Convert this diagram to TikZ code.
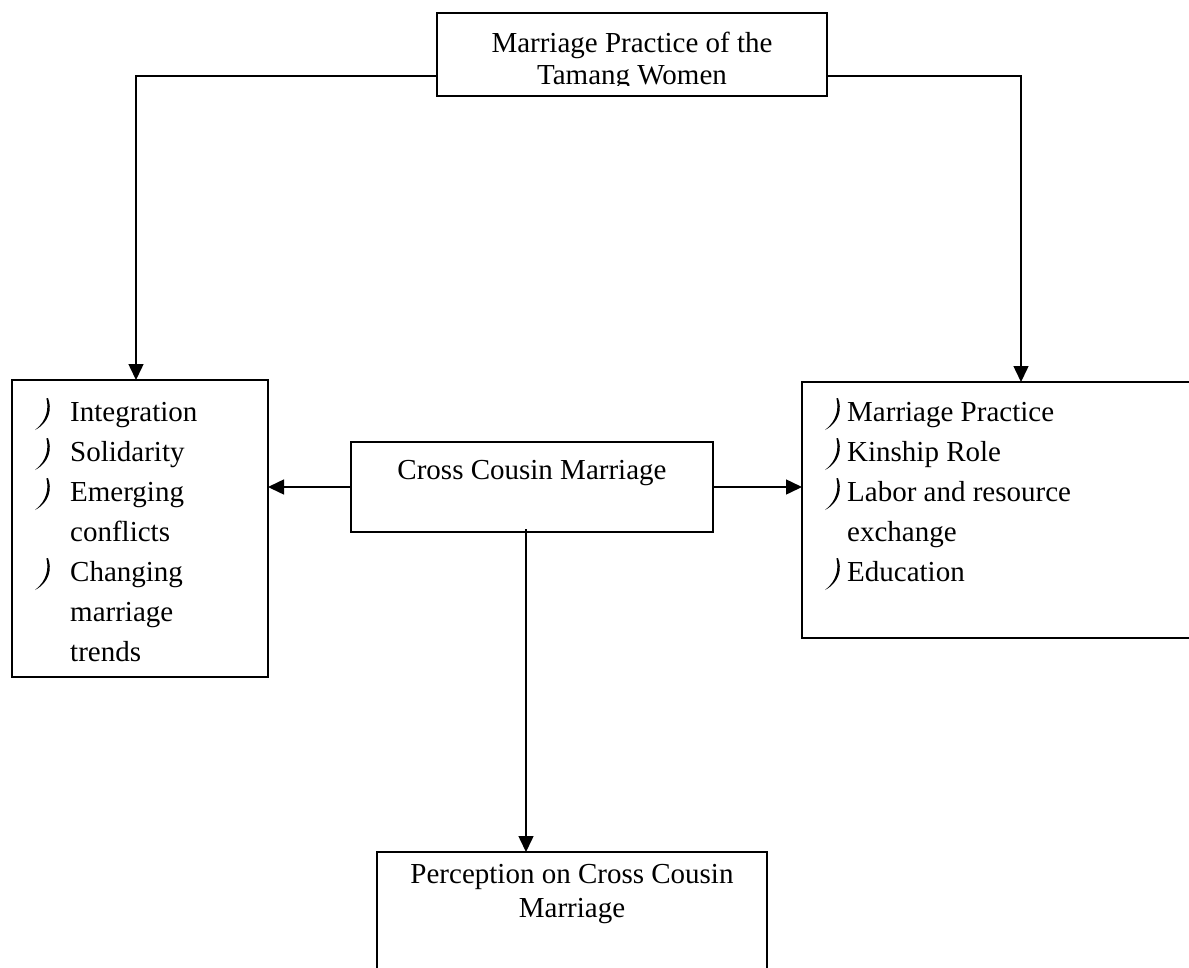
\documentclass[tikz,border=0pt]{standalone}
\usepackage{fontspec}
\setmainfont{Liberation Serif}
\usetikzlibrary{arrows.meta}
\begin{document}
\begin{tikzpicture}[x=1pt,y=-1pt,
  box/.style={draw, line width=1.5pt, rectangle, inner sep=0pt, outer sep=0pt},
  txt/.style={anchor=base, inner sep=0pt, font=\fontsize{29}{33}\selectfont},
  ltxt/.style={anchor=base west, inner sep=0pt, font=\fontsize{29}{33}\selectfont},
  conn/.style={line width=1.5pt},
  arr/.style={conn, -{Triangle[length=16pt,width=15pt]}},
  hook/.pic={\fill (0,-2) .. controls (4,8) and (2,22) .. (-13,30) .. controls (-1,21) and (1,8) .. (-1.6,-1.5) -- cycle;}
]
\path[use as bounding box] (0,0) rectangle (1189,967);
\clip (0,0) rectangle (1189,967);

% boxes
\node[box, minimum width=390pt, minimum height=83pt] (top) at (632,54.5) {};
\node[box, minimum width=256pt, minimum height=297pt] (left) at (140,528.5) {};
\node[box, minimum width=398pt, minimum height=256pt] (right) at (1001,510) {};
\node[box, minimum width=362pt, minimum height=90pt] (mid) at (532,487) {};
\node[box, minimum width=390pt, minimum height=148pt] (bot) at (572,926) {};

% top text (clipped at the bottom as in the reference)
\begin{scope}
  \clip (437,13) rectangle (827,85);
  \node[txt] (t1) at (632,52) {Marriage Practice of the};
  \node[txt] (t2) at (632,84) {Tamang Women};
\end{scope}

% middle text
\node[txt] (m1) at (532,479) {Cross Cousin Marriage};

% bottom text
\node[txt] (b1) at (572,883) {Perception on Cross Cousin};
\node[txt] (b2) at (572,917) {Marriage};

% left list
\foreach \y/\s [count=\i] in {421/Integration, 461/Solidarity, 501/Emerging, 541/conflicts, 581/Changing, 621/marriage, 661/trends}
  \node[ltxt] (l\i) at (70,\y) {\s};
\foreach \y in {400,440,480,560}
  \pic at (48,\y) {hook};

% right list
\foreach \y/\s [count=\i] in {421/Marriage Practice, 461/Kinship Role, 501/Labor and resource, 541/exchange, 581/Education}
  \node[ltxt] (r\i) at (847,\y) {\s};
\foreach \y in {400,440,480,560}
  \pic at (838,\y) {hook};

% connectors
\coordinate (lc) at (136,76);
\coordinate (rc) at (1021,76);
\coordinate (dc) at (526,529);
\draw[arr] (top.west |- lc) -- (lc) -- (lc |- left.north);
\draw[arr] (top.east |- rc) -- (rc) -- (rc |- right.north);
\draw[arr] (mid.west) -- (left.east |- mid.west);
\draw[arr] (mid.east) -- (right.west |- mid.east);
\draw[arr] (dc) -- (dc |- bot.north);
\end{tikzpicture}
\end{document}
